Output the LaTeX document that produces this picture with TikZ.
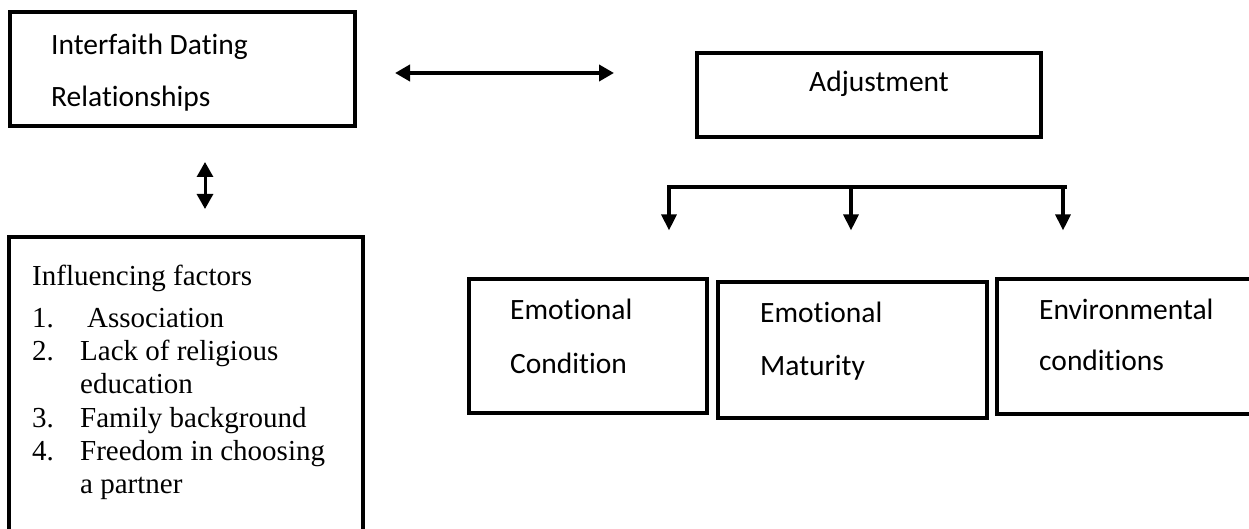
\documentclass[tikz,border=0pt]{standalone}
\usepackage{fontspec}
\setmainfont{Liberation Serif}
\newfontfamily\calfont[Ligatures=NoCommon]{Carlito}
\usetikzlibrary{arrows.meta}
\begin{document}
\begin{tikzpicture}[x=1pt,y=-1pt,
  box/.style={draw,line width=3.2pt,rectangle,inner sep=0pt},
  lbl/.style={anchor=base west,inner sep=0pt,font=\calfont\fontsize{29.5}{35}\selectfont},
  tnr/.style={anchor=base west,inner sep=0pt,font=\fontsize{29}{35}\selectfont},
  harrow/.style={line width=4pt,{Triangle[length=15pt,width=16pt]}-{Triangle[length=15pt,width=16pt]}},
  varrow/.style={line width=3pt,{Triangle[length=15pt,width=16pt]}-{Triangle[length=15pt,width=16pt]}},
  down/.style={line width=3.2pt,-{Triangle[length=16pt,width=15pt]}}
]
\useasboundingbox (0,0) rectangle (1249,529);
\clip (0,0) rectangle (1249,529);

% boxes
\node[box,minimum width=345pt,minimum height=114pt] (ifd) at (182.5,69) {};
\node[box,minimum width=344pt,minimum height=84pt] (adj) at (869,95) {};
\node[box,minimum width=354pt,minimum height=323pt] (inf) at (186,398.5) {};
\node[box,minimum width=238pt,minimum height=134pt] (ec) at (588,346) {};
\node[box,minimum width=269pt,minimum height=136pt] (em) at (852.5,350) {};
\node[box,minimum width=268pt,minimum height=135pt] (env) at (1131,346.5) {};

% texts
\node[lbl] (t1) at (51,55) {Interfaith Dating};
\node[lbl] (t2) at (51,107) {Relationships};
\node[lbl,anchor=base] (t3) at (879,92) {Adjustment};
\node[lbl] (t4) at (510,319) {Emotional};
\node[lbl] (t5) at (510,373) {Condition};
\node[lbl] (t6) at (760,322) {Emotional};
\node[lbl] (t7) at (760,375) {Maturity};
\node[lbl] (t8) at (1039,319) {Environmental};
\node[lbl] (t9) at (1039,370) {conditions};

\node[tnr] (f0) at (32,285) {Influencing factors};
\node[tnr] (n1) at (32,327) {1.};
\node[tnr] (f1) at (87,327) {Association};
\node[tnr] (n2) at (32,360) {2.};
\node[tnr] (f2) at (80,360) {Lack of religious};
\node[tnr] (f2b) at (80,393) {education};
\node[tnr] (n3) at (32,427) {3.};
\node[tnr] (f3) at (80,427) {Family background};
\node[tnr] (n4) at (32,460) {4.};
\node[tnr] (f4) at (80,460) {Freedom in choosing};
\node[tnr] (f4b) at (80,493) {a partner};

% connectors
\coordinate (h1) at (395,73);
\coordinate (h2) at (614,73);
\draw[harrow] (h1) -- (h2);

\coordinate (v1) at (205,162);
\coordinate (v2) at (205,209);
\draw[varrow] (v1) -- (v2);

\coordinate (b1) at (667,187);
\coordinate (b2) at (1067,187);
\draw[line width=3.2pt] (b1) -- (b2);
\coordinate (d1) at (669,187);
\coordinate (d2) at (851,187);
\coordinate (d3) at (1063,187);
\draw[down,shorten >=47pt] (d1) -- (d1 |- ec.north);
\draw[down,shorten >=50pt] (d2) -- (d2 |- em.north);
\draw[down,shorten >=47pt] (d3) -- (d3 |- env.north);
\end{tikzpicture}
\end{document}
